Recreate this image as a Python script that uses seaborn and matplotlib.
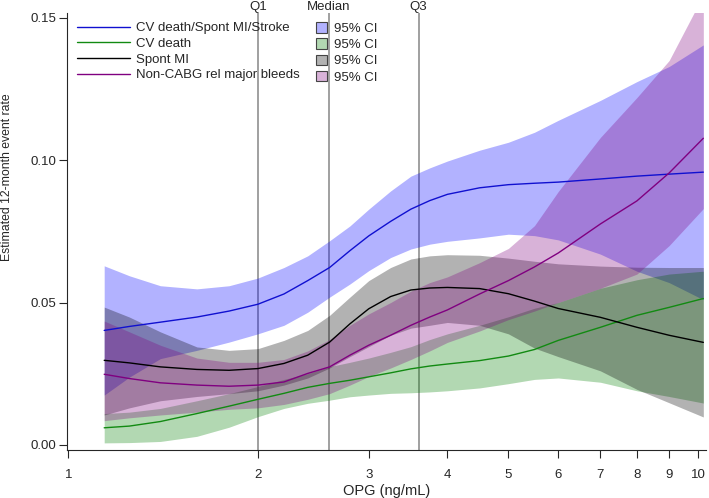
import pandas as pd
import seaborn as sns
import matplotlib.pyplot as plt
from matplotlib.colors import to_rgb
from matplotlib.patches import Patch
from matplotlib.lines import Line2D

# OPG grid (ng/mL) the curves were read at
opg = [1.14, 1.25, 1.4, 1.6, 1.8, 2.0, 2.2, 2.4, 2.6, 2.8, 3.0, 3.25, 3.5, 3.75,
       4.0, 4.5, 5.0, 5.5, 6.0, 7.0, 8.0, 9.0, 10.2]

outcomes = ['CV death/Spont MI/Stroke', 'CV death', 'Spont MI', 'Non-CABG rel major bleeds']

comp_est = [0.0402, 0.0416, 0.0431, 0.0449, 0.047, 0.0494, 0.053, 0.0577, 0.0623, 0.0682, 0.0734, 0.0785,
            0.0828, 0.0858, 0.0880, 0.0903, 0.0914, 0.0919, 0.0923, 0.0934, 0.0944, 0.0951, 0.0958]
comp_hi = [0.0629, 0.0594, 0.0559, 0.0548, 0.0559, 0.0586, 0.0623, 0.0664, 0.0717, 0.0769, 0.0828, 0.0892,
           0.0944, 0.0973, 0.0997, 0.1035, 0.1063, 0.1098, 0.114, 0.121, 0.1276, 0.1329, 0.1405]
comp_lo = [0.0175, 0.0238, 0.0303, 0.0332, 0.0361, 0.039, 0.042, 0.0466, 0.0519, 0.0565, 0.0612, 0.0658,
           0.0688, 0.0705, 0.0715, 0.0727, 0.074, 0.0735, 0.072, 0.067, 0.061, 0.057, 0.051]

cvd_est = [0.006, 0.0066, 0.0082, 0.011, 0.0136, 0.016, 0.0181, 0.0202, 0.0216, 0.0227, 0.0239, 0.0253,
           0.0267, 0.0277, 0.0284, 0.0296, 0.0312, 0.0335, 0.0367, 0.0413, 0.0455, 0.0483, 0.0514]
cvd_hi = [0.011, 0.0115, 0.0128, 0.0155, 0.018, 0.0205, 0.023, 0.025, 0.0275, 0.029, 0.0305, 0.0325,
          0.0345, 0.037, 0.039, 0.042, 0.045, 0.048, 0.050, 0.055, 0.058, 0.060, 0.061]
cvd_lo = [0.0007, 0.0008, 0.0012, 0.003, 0.0062, 0.0099, 0.0128, 0.0146, 0.0157, 0.0169, 0.0175, 0.0181,
          0.0183, 0.0186, 0.019, 0.020, 0.0215, 0.023, 0.0235, 0.022, 0.019, 0.017, 0.0147]

mi_est = [0.0297, 0.0288, 0.0274, 0.0265, 0.0262, 0.0268, 0.0286, 0.0315, 0.0361, 0.0425, 0.0478, 0.0521,
          0.0544, 0.0551, 0.0553, 0.0549, 0.0531, 0.0505, 0.0479, 0.0448, 0.0413, 0.0385, 0.036]
mi_hi = [0.0484, 0.0449, 0.0397, 0.0344, 0.0332, 0.0338, 0.0367, 0.0402, 0.0455, 0.0519, 0.0577, 0.0623,
         0.0653, 0.0664, 0.0668, 0.0666, 0.0656, 0.0645, 0.0636, 0.0628, 0.0624, 0.0623, 0.0623]
mi_lo = [0.0105, 0.013, 0.0155, 0.017, 0.018, 0.019, 0.021, 0.0235, 0.027, 0.031, 0.0345, 0.0385,
         0.041, 0.042, 0.043, 0.042, 0.039, 0.034, 0.031, 0.026, 0.0195, 0.0148, 0.0098]

bleed_est = [0.0248, 0.0233, 0.0218, 0.021, 0.0206, 0.021, 0.0221, 0.0251, 0.0274, 0.0315, 0.035, 0.0385,
             0.042, 0.0449, 0.0474, 0.053, 0.0577, 0.0625, 0.0674, 0.0776, 0.0857, 0.0955, 0.1077]
bleed_hi = [0.0435, 0.0397, 0.035, 0.0305, 0.029, 0.029, 0.030, 0.033, 0.037, 0.042, 0.046, 0.050,
            0.054, 0.057, 0.059, 0.064, 0.069, 0.077, 0.089, 0.108, 0.122, 0.135, 0.158]
bleed_lo = [0.0085, 0.0095, 0.0105, 0.0115, 0.0125, 0.013, 0.0142, 0.016, 0.018, 0.021, 0.024, 0.027,
            0.030, 0.033, 0.036, 0.040, 0.044, 0.047, 0.050, 0.055, 0.060, 0.070, 0.083]

quartiles = [2.0, 2.59, 3.6]
quartile_labels = ['Q1', 'Median', 'Q3']
xticks = [1, 2, 3, 4, 5, 6, 7, 8, 9, 10]
yticks = [0.0, 0.05, 0.10, 0.15]

colors = ['#0000ff', '#008000', '#000000', '#800080']
line_colors = ['#1010d0', '#128a12', '#000000', '#800080']

df = pd.concat([
    pd.DataFrame({'opg': opg, 'rate': est, 'outcome': name})
    for name, est in zip(outcomes, [comp_est, cvd_est, mi_est, bleed_est])
])

sns.set_theme(style='ticks')
plt.rcParams['font.family'] = ['Liberation Sans', 'DejaVu Sans']

fig = plt.figure(figsize=(7.09, 4.98), dpi=100)
ax = fig.add_axes([67 / 709, 48 / 498, 639 / 709, 437 / 498])

bands = [(comp_lo, comp_hi), (cvd_lo, cvd_hi), (mi_lo, mi_hi), (bleed_lo, bleed_hi)]
for (lo, hi), c in zip(bands, colors):
    ax.fill_between(opg, lo, hi, color=c, alpha=0.3, lw=0)

sns.lineplot(data=df, x='opg', y='rate', hue='outcome', hue_order=outcomes,
             palette=line_colors, lw=1.0, legend=False, ax=ax)

for q, lab in zip(quartiles, quartile_labels):
    ax.axvline(q, color='#909090', lw=1.2, zorder=0.5)
    ax.annotate(lab, xy=(q, 1), xycoords=('data', 'axes fraction'),
                xytext=(0, 2.2), textcoords='offset points',
                ha='center', va='baseline', fontsize=9.5)

ax.set_xscale('log')
ax.set_xlim(0.995, 10.3)
ax.set_ylim(-0.0018, 0.1517)
ax.set_xticks(xticks)
ax.set_xticklabels([str(t) for t in xticks])
ax.xaxis.set_minor_locator(plt.NullLocator())
ax.set_yticks(yticks)
ax.set_yticklabels([f'{t:.2f}' for t in yticks])
ax.tick_params(axis='x', length=6, width=0.8, pad=8, labelsize=9.5)
ax.tick_params(axis='y', length=6, width=0.8, pad=2, labelsize=9.5)
ax.set_xlabel('OPG (ng/mL)', fontsize=10.5, labelpad=2)
ax.set_ylabel('Estimated 12-month event rate', fontsize=8.8)
ax.yaxis.set_label_coords(-0.084, 0.625)
sns.despine(ax=ax)
for s in ['left', 'bottom']:
    ax.spines[s].set_linewidth(0.8)

line_handles = [Line2D([], [], color=c, lw=1.0) for c in line_colors]
leg1 = ax.legend(line_handles, outcomes, loc='upper left',
                 bbox_to_anchor=(77 / 709, 1 - 22 / 498), bbox_transform=fig.transFigure,
                 frameon=False, fontsize=9.5, handlelength=4.0, handletextpad=0.5,
                 labelspacing=0.26, borderpad=0, borderaxespad=0)
ax.add_artist(leg1)
patch_handles = [Patch(facecolor=(*to_rgb(c), 0.3), edgecolor='#444444', lw=0.8) for c in colors]
ax.legend(patch_handles, ['95% CI'] * 4, loc='upper left',
          bbox_to_anchor=(316 / 709, 1 - 22 / 498), bbox_transform=fig.transFigure,
          frameon=False, fontsize=9.5, handlelength=0.85, handleheight=0.85,
          handletextpad=0.5, labelspacing=0.26, borderpad=0, borderaxespad=0)

fig.savefig('out.png', dpi=100)
